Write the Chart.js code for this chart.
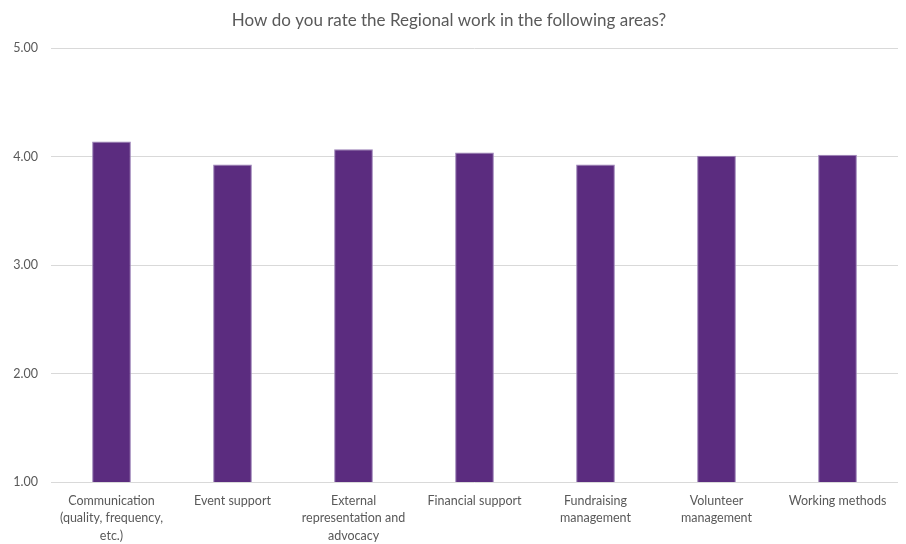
<!DOCTYPE html>
<html lang="en">
<head>
  <meta charset="UTF-8" />
  <title>Regional work rating</title>
  <style>
    html, body { margin: 0; padding: 0; background: #fff; }
    #wrap { width: 906px; height: 544px; position: relative; }
  </style>
  <script src="https://cdn.jsdelivr.net/npm/chart.js"></script>
</head>
<body>
  <div id="wrap"><canvas id="ratingChart"></canvas></div>

  <script>
    const areas = [
      ['Communication', '(quality, frequency,', 'etc.)'],
      'Event support',
      ['External', 'representation and', 'advocacy'],
      'Financial support',
      ['Fundraising', 'management'],
      ['Volunteer', 'management'],
      'Working methods'
    ];
    const ratings = [4.14, 3.93, 4.07, 4.04, 3.93, 4.01, 4.02];
    const yTicks = [1, 2, 3, 4, 5];

    const fontFamily = 'Lato, "Noto Sans", sans-serif';

    const ctx = document.getElementById('ratingChart').getContext('2d');
    new Chart(ctx, {
      type: 'bar',
      data: {
        labels: areas,
        datasets: [{
          label: 'Rating',
          data: ratings,
          backgroundColor: '#5b2c7f',
          borderColor: '#9a80b6',
          borderWidth: 1,
          categoryPercentage: 1,
          barPercentage: 0.32
        }]
      },
      options: {
        responsive: true,
        maintainAspectRatio: false,
        animation: false,
        layout: { padding: { left: 0, right: 8, top: 10, bottom: 0 } },
        plugins: {
          legend: { display: false },
          tooltip: { enabled: false },
          title: {
            display: true,
            text: 'How do you rate the Regional work in the following areas?',
            color: '#595959',
            font: { family: fontFamily, size: 17, weight: 'normal' },
            padding: { top: 0, bottom: 18 }
          }
        },
        scales: {
          x: {
            // fixed height keeps the plot bottom at the 1.00 line position
            afterFit: (scale) => { scale.height = 62; },
            grid: { display: false, drawTicks: false },
            border: { display: false },
            ticks: {
              color: '#595959',
              font: { family: fontFamily, size: 12.5, lineHeight: 1.4 },
              padding: 10,
              maxRotation: 0,
              autoSkip: false
            }
          },
          y: {
            min: yTicks[0],
            max: yTicks[yTicks.length - 1],
            afterBuildTicks: (scale) => {
              scale.ticks = yTicks.map(v => ({ value: v }));
            },
            afterFit: (scale) => { scale.width = 51; },
            grid: { color: '#d9d9d9', lineWidth: 1, drawTicks: false },
            border: { display: false },
            ticks: {
              color: '#595959',
              font: { family: fontFamily, size: 12.5 },
              padding: 13,
              callback: (v) => Number(v).toFixed(2)
            }
          }
        }
      }
    });
  </script>
</body>
</html>
